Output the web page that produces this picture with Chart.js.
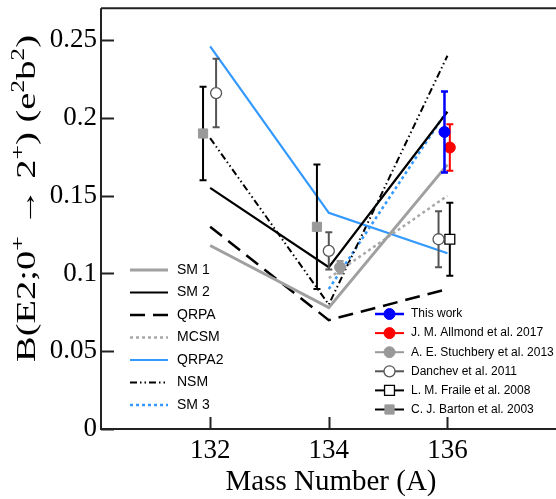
<!DOCTYPE html>
<html>
<head>
<meta charset="utf-8">
<script src="https://cdn.jsdelivr.net/npm/chart.js@4.4.0/dist/chart.umd.min.js"></script>
<style>
  html, body { margin: 0; padding: 0; background: #fff; }
  canvas { display: block; }
</style>
</head>
<body>
<canvas id="chart" width="556" height="499"></canvas>
<script>
// theory curves, mass numbers 132, 134, 136 (null = not calculated)
var masses = [132, 134, 136];
var sm1   = [0.118, 0.078, 0.170];
var sm2   = [0.155, 0.104, 0.204];
var qrpa  = [0.130, 0.070, 0.090];
var mcsm  = [null, 0.097, 0.150];
var qrpa2 = [0.246, 0.139, 0.113];
var nsm   = [0.187, 0.080, 0.240];
var sm3   = [null, 0.090, 0.205];

// measurements: position (slightly offset in A), value, error
var thisWorkX = [135.95], thisWorkY = [0.191], thisWorkErr = [0.026];
var allmondX = [136.04], allmondY = [0.181], allmondErr = [0.015];
var stuchberyX = [134.19], stuchberyY = [0.104], stuchberyErr = [0.004];
var danchevX = [132.1, 134.0, 135.85], danchevY = [0.216, 0.1145, 0.122], danchevErr = [0.022, 0.012, 0.018];
var fraileX = [136.04], fraileY = [0.122], fraileErr = [0.0235];
var bartonX = [131.88, 133.8], bartonY = [0.190, 0.130], bartonErr = [0.030, 0.040];

var xTicks = [132, 134, 136];
var yTicks = [0, 0.05, 0.1, 0.15, 0.2, 0.25];

var SERIF = "'Liberation Serif', 'Times New Roman', serif";
var SANS = "'Liberation Sans', Arial, sans-serif";
var BLUE = '#3399ff';

Chart.defaults.font.family = SERIF;

function pts(xs, ys) {
  var out = [];
  xs.forEach(function(x, i) {
    if (ys[i] !== null) out.push({ x: x, y: ys[i] });
  });
  return out;
}

function theory(label, ys, color, width, dash) {
  return {
    type: 'line', label: label, data: pts(masses, ys),
    borderColor: color, borderWidth: width, borderDash: dash || [],
    pointRadius: 0, fill: false, tension: 0, legendGroup: 'theory'
  };
}

function measured(label, xs, ys, errs, opts) {
  return {
    type: 'scatter', label: label, data: pts(xs, ys), errors: errs,
    errColor: opts.errColor, errWidth: opts.errWidth,
    pointStyle: opts.style, pointRadius: opts.radius,
    backgroundColor: opts.fill, borderColor: opts.stroke, borderWidth: opts.bw || 1,
    legendGroup: 'exp'
  };
}

var datasets = [
  measured('This work', thisWorkX, thisWorkY, thisWorkErr,
    { errColor: '#0000ff', errWidth: 2.5, style: 'circle', radius: 5.5, fill: '#0000ff', stroke: '#0000ff' }),
  measured('J. M. Allmond et al. 2017', allmondX, allmondY, allmondErr,
    { errColor: '#ff0000', errWidth: 2, style: 'circle', radius: 5.5, fill: '#ff0000', stroke: '#ff0000' }),
  measured('A. E. Stuchbery et al. 2013', stuchberyX, stuchberyY, stuchberyErr,
    { errColor: '#999999', errWidth: 2, style: 'circle', radius: 5.5, fill: '#999999', stroke: '#999999' }),
  measured('Danchev et al. 2011', danchevX, danchevY, danchevErr,
    { errColor: '#555555', errWidth: 2, style: 'circle', radius: 5.5, fill: '#ffffff', stroke: '#555555', bw: 1.3 }),
  measured('L. M. Fraile et al. 2008', fraileX, fraileY, fraileErr,
    { errColor: '#000000', errWidth: 2, style: 'rect', radius: 7, fill: '#ffffff', stroke: '#000000', bw: 1.3 }),
  measured('C. J. Barton et al. 2003', bartonX, bartonY, bartonErr,
    { errColor: '#000000', errWidth: 2, style: 'rect', radius: 6.5, fill: '#999999', stroke: '#999999' }),
  theory('SM 1', sm1, '#a0a0a0', 3, []),
  theory('SM 2', sm2, '#000000', 2.2, []),
  theory('QRPA', qrpa, '#000000', 2.5, [15, 8]),
  theory('MCSM', mcsm, '#a8a8a8', 2.5, [3, 3]),
  theory('QRPA2', qrpa2, BLUE, 2.2, []),
  theory('NSM', nsm, '#000000', 2, [7, 3, 1.5, 3, 1.5, 3]),
  theory('SM 3', sm3, BLUE, 2.5, [3, 3])
];

// error bars drawn just under each dataset's markers
var errorBars = {
  id: 'errorBars',
  beforeDatasetDraw: function(chart, args) {
    var ds = chart.data.datasets[args.index];
    if (!ds.errors) return;
    var ctx = chart.ctx, ys = chart.scales.y;
    ctx.save();
    ctx.strokeStyle = ds.errColor;
    ctx.lineWidth = ds.errWidth;
    args.meta.data.forEach(function(el, i) {
      var v = ds.data[i].y, e = ds.errors[i];
      var top = ys.getPixelForValue(v + e), bot = ys.getPixelForValue(v - e);
      ctx.beginPath();
      ctx.moveTo(el.x, top); ctx.lineTo(el.x, bot);
      ctx.moveTo(el.x - 3.5, top); ctx.lineTo(el.x + 3.5, top);
      ctx.moveTo(el.x - 3.5, bot); ctx.lineTo(el.x + 3.5, bot);
      ctx.stroke();
    });
    ctx.restore();
  }
};

// frame with inward ticks, axis titles and the two legends
var decorations = {
  id: 'decorations',
  afterDraw: function(chart) {
    var ctx = chart.ctx, a = chart.chartArea;
    var xs = chart.scales.x, ys = chart.scales.y;
    ctx.save();
    ctx.strokeStyle = '#222';
    ctx.lineWidth = 2;
    ctx.beginPath();
    ctx.moveTo(a.left, a.top); ctx.lineTo(a.left, a.bottom); ctx.lineTo(chart.width, a.bottom);
    ctx.moveTo(a.left, a.top); ctx.lineTo(chart.width, a.top);
    xTicks.forEach(function(t) {
      var px = Math.round(xs.getPixelForValue(t)) + 0.5;
      ctx.moveTo(px, a.bottom); ctx.lineTo(px, a.bottom - 12);
    });
    yTicks.forEach(function(t) {
      var py = Math.round(ys.getPixelForValue(t)) + 0.5;
      ctx.moveTo(a.left, py); ctx.lineTo(a.left + 13, py);
    });
    ctx.stroke();

    // x title
    ctx.fillStyle = '#000';
    ctx.font = '29px ' + SERIF;
    ctx.textAlign = 'center';
    ctx.textBaseline = 'alphabetic';
    ctx.fillText('Mass Number (A)', 331, 490);

    // y title with superscripts, stretched along its length like the original
    var parts = [['B(E2;0', 0], ['+', 1], [' \u2192 2', 0], ['+', 1], [') (e', 0], ['2', 1], ['b', 0], ['2', 1], [')', 0]];
    var big = '27px ' + SERIF, small = '18px ' + SERIF;
    var total = 0;
    parts.forEach(function(p) { ctx.font = p[1] ? small : big; total += ctx.measureText(p[0]).width; });
    var stretch = 327 / total;
    ctx.translate(35, 198.5);
    ctx.rotate(-Math.PI / 2);
    ctx.scale(stretch, 1);
    ctx.textAlign = 'left';
    var cx = -total / 2;
    parts.forEach(function(p) {
      ctx.font = p[1] ? small : big;
      ctx.fillText(p[0], cx, p[1] ? -11 : 0);
      cx += ctx.measureText(p[0]).width;
    });
    ctx.setTransform(1, 0, 0, 1, 0, 0);

    // legends
    var theoryRow = 0, expRow = 0;
    ctx.textBaseline = 'middle';
    chart.data.datasets.forEach(function(ds) {
      var y, x0, x1, tx;
      if (ds.legendGroup === 'theory') {
        y = 270 + theoryRow * 22.5; x0 = 130; x1 = 168; tx = 177; theoryRow++;
        ctx.font = '14px ' + SANS;
        ctx.strokeStyle = ds.borderColor; ctx.lineWidth = ds.borderWidth;
        ctx.setLineDash(ds.borderDash);
      } else {
        y = 314 + expRow * 19.1; x0 = 375; x1 = 404; tx = 411; expRow++;
        ctx.font = '12px ' + SANS;
        ctx.strokeStyle = ds.errColor; ctx.lineWidth = ds.errWidth;
        ctx.setLineDash([]);
      }
      ctx.beginPath(); ctx.moveTo(x0, y); ctx.lineTo(x1, y); ctx.stroke();
      ctx.setLineDash([]);
      if (ds.legendGroup === 'exp') {
        var mx = (x0 + x1) / 2;
        ctx.fillStyle = ds.backgroundColor; ctx.strokeStyle = ds.borderColor; ctx.lineWidth = ds.borderWidth;
        ctx.beginPath();
        if (ds.pointStyle === 'rect') {
          var s = ds.pointRadius * Math.SQRT1_2;
          ctx.rect(mx - s, y - s, 2 * s, 2 * s);
        } else {
          ctx.arc(mx, y, ds.pointRadius, 0, Math.PI * 2);
        }
        ctx.fill(); ctx.stroke();
      }
      ctx.fillStyle = '#000';
      ctx.textAlign = 'left';
      ctx.fillText(ds.label, tx, y);
    });
    ctx.restore();
  }
};

new Chart(document.getElementById('chart').getContext('2d'), {
  data: { datasets: datasets },
  options: {
    responsive: false,
    animation: false,
    layout: { padding: { top: 6, right: 0, left: 0, bottom: 0 } },
    plugins: { legend: { display: false }, tooltip: { enabled: false } },
    scales: {
      x: {
        type: 'linear', min: 130.16, max: 137.69,
        grid: { display: false, drawTicks: false }, border: { display: false },
        afterBuildTicks: function(s) { s.ticks = xTicks.map(function(v) { return { value: v }; }); },
        afterFit: function(s) { s.height = 70; s.paddingLeft = 0; s.paddingRight = 0; },
        ticks: { color: '#000', padding: 6, maxRotation: 0, font: { family: SERIF, size: 27 },
                 callback: function(v) { return String(v); } }
      },
      y: {
        type: 'linear', min: 0, max: 0.2705,
        grid: { display: false, drawTicks: false }, border: { display: false },
        afterBuildTicks: function(s) { s.ticks = yTicks.map(function(v) { return { value: v }; }); },
        afterFit: function(s) { s.width = 101; s.paddingTop = 0; s.paddingBottom = 0; },
        ticks: { color: '#000', padding: 4, font: { family: SERIF, size: 27 },
                 callback: function(v) { return String(v); } }
      }
    }
  },
  plugins: [errorBars, decorations]
});
</script>
</body>
</html>
